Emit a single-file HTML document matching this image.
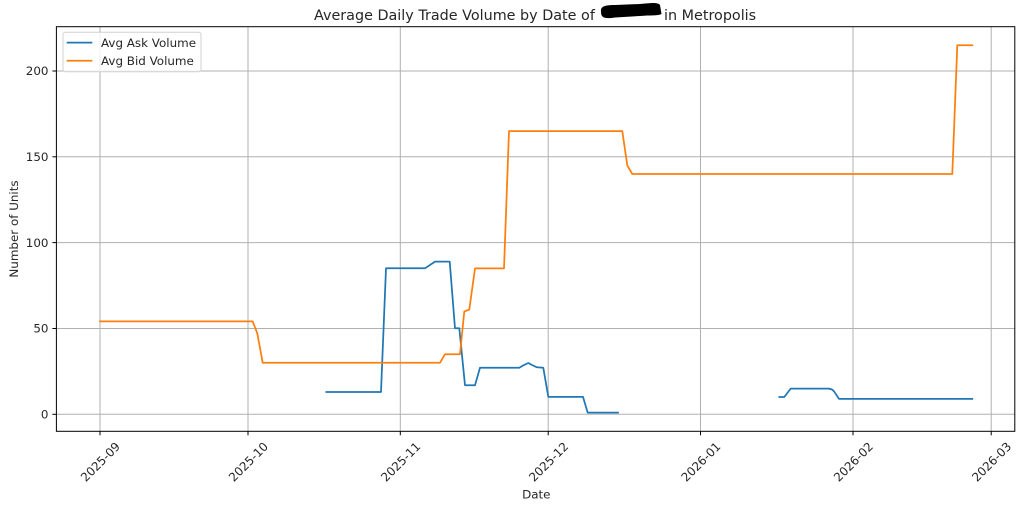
<!DOCTYPE html>
<html>
<head>
<meta charset="utf-8">
<style>
  html, body { margin: 0; padding: 0; background: #ffffff; }
  svg { display: block; }
  text { font-family: "DejaVu Sans", "Liberation Sans", sans-serif; fill: #262626; }
</style>
</head>
<body>
<svg width="1024" height="509" viewBox="0 0 1024 509" xmlns="http://www.w3.org/2000/svg">
  <rect x="0" y="0" width="1024" height="509" fill="#ffffff"/>

  <!-- gridlines -->
  <g stroke="#b0b0b0" stroke-width="1" fill="none">
    <line x1="100" y1="26.7" x2="100" y2="431.3"/>
    <line x1="248" y1="26.7" x2="248" y2="431.3"/>
    <line x1="400.3" y1="26.7" x2="400.3" y2="431.3"/>
    <line x1="548.2" y1="26.7" x2="548.2" y2="431.3"/>
    <line x1="700.5" y1="26.7" x2="700.5" y2="431.3"/>
    <line x1="853" y1="26.7" x2="853" y2="431.3"/>
    <line x1="991.2" y1="26.7" x2="991.2" y2="431.3"/>
    <line x1="56.4" y1="414.3" x2="1014.8" y2="414.3"/>
    <line x1="56.4" y1="328.5" x2="1014.8" y2="328.5"/>
    <line x1="56.4" y1="242.6" x2="1014.8" y2="242.6"/>
    <line x1="56.4" y1="156.8" x2="1014.8" y2="156.8"/>
    <line x1="56.4" y1="71.0" x2="1014.8" y2="71.0"/>
  </g>

  <!-- Ask volume (blue) -->
  <g fill="none" stroke="#1f77b4" stroke-width="1.75" stroke-linejoin="round" stroke-linecap="square">
    <polyline points="326.3,392 381,392 386,268.3 425,268.3 435,261.6 449.7,261.6 455,328.3 459.3,328.3 465,385.2 475,385.2 480,367.8 519.3,367.8 524,365 528.3,363 533,365.5 537,367.3 543.3,367.8 548.3,396.9 583,396.9 587.7,412.6 618,412.6"/>
    <polyline points="779.3,397 784.3,397 790.7,388.6 829,388.6 832,389.5 834,391.3 839,398.9 972.3,398.9"/>
  </g>

  <!-- Bid volume (orange) -->
  <g fill="none" stroke="#ff7f0e" stroke-width="1.75" stroke-linejoin="round" stroke-linecap="square">
    <polyline points="100,321.4 252.7,321.4 257.3,333.3 262.7,362.8 440,362.8 445,354.2 460,354.2 464.3,311.5 469.3,309.6 475,268.4 504,268.4 509,131.1 622.3,131.1 627.3,165.4 632.3,174 952.3,174 957.3,45.2 972.3,45.2"/>
  </g>

  <!-- spines -->
  <rect x="56.4" y="26.7" width="958.4" height="404.6" fill="none" stroke="#000000" stroke-width="1"/>

  <!-- y ticks -->
  <g stroke="#000000" stroke-width="1">
    <line x1="52.4" y1="414.3" x2="56.4" y2="414.3"/>
    <line x1="52.4" y1="328.5" x2="56.4" y2="328.5"/>
    <line x1="52.4" y1="242.6" x2="56.4" y2="242.6"/>
    <line x1="52.4" y1="156.8" x2="56.4" y2="156.8"/>
    <line x1="52.4" y1="71.0" x2="56.4" y2="71.0"/>
  </g>
  <g font-size="11.9" text-anchor="end">
    <text x="48.5" y="418.5">0</text>
    <text x="48.5" y="332.7">50</text>
    <text x="48.5" y="246.8">100</text>
    <text x="48.5" y="161">150</text>
    <text x="48.5" y="75.2">200</text>
  </g>

  <!-- x ticks -->
  <g stroke="#000000" stroke-width="1">
    <line x1="100" y1="431.3" x2="100" y2="435.3"/>
    <line x1="248" y1="431.3" x2="248" y2="435.3"/>
    <line x1="400.3" y1="431.3" x2="400.3" y2="435.3"/>
    <line x1="548.2" y1="431.3" x2="548.2" y2="435.3"/>
    <line x1="700.5" y1="431.3" x2="700.5" y2="435.3"/>
    <line x1="853" y1="431.3" x2="853" y2="435.3"/>
    <line x1="991.2" y1="431.3" x2="991.2" y2="435.3"/>
  </g>
  <g font-size="11.9" text-anchor="middle" dominant-baseline="central">
    <text transform="translate(100.5,462) rotate(-45)">2025-09</text>
    <text transform="translate(248.5,462) rotate(-45)">2025-10</text>
    <text transform="translate(400.8,462) rotate(-45)">2025-11</text>
    <text transform="translate(548.7,462) rotate(-45)">2025-12</text>
    <text transform="translate(701,462) rotate(-45)">2026-01</text>
    <text transform="translate(853.5,462) rotate(-45)">2026-02</text>
    <text transform="translate(991.7,462) rotate(-45)">2026-03</text>
  </g>

  <!-- axis labels -->
  <text x="536.3" y="498.5" font-size="11.9" text-anchor="middle">Date</text>
  <text transform="translate(18,229) rotate(-90)" font-size="11.9" text-anchor="middle">Number of Units</text>

  <!-- title -->
  <text x="314" y="20" font-size="14.35">Average Daily Trade Volume by Date of </text>
  <text x="664" y="20" font-size="14.35">in Metropolis</text>
  <path d="M601,12 C600,6 606,5 615,5 L640,4 C650,3 658,2 660,5 L661.5,14 C658,16 650,15 640,16 L615,17.5 C605,19 601,18 601,12 Z" fill="#000000"/>

  <!-- legend -->
  <rect x="63" y="32.3" width="138" height="39.4" rx="2.5" ry="2.5" fill="#ffffff" fill-opacity="0.8" stroke="#d0d0d0" stroke-width="1"/>
  <line x1="66.7" y1="42.6" x2="92.3" y2="42.6" stroke="#1f77b4" stroke-width="1.75"/>
  <line x1="66.7" y1="60.8" x2="92.3" y2="60.8" stroke="#ff7f0e" stroke-width="1.75"/>
  <text x="101" y="46.8" font-size="11.9">Avg Ask Volume</text>
  <text x="101" y="65" font-size="11.9">Avg Bid Volume</text>
</svg>
</body>
</html>
